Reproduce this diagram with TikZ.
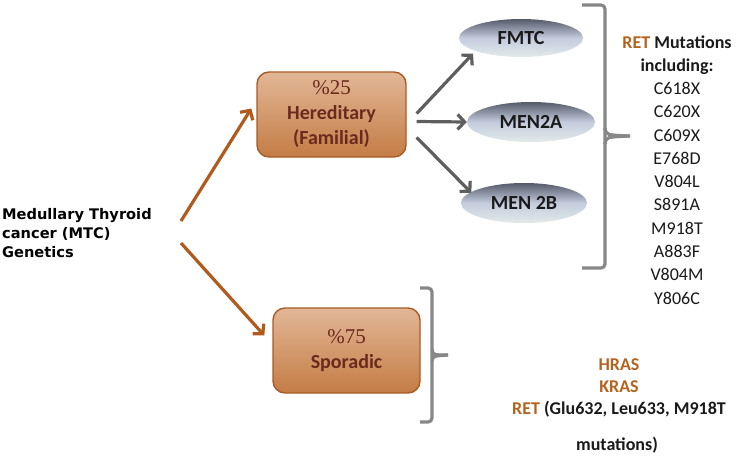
\documentclass[tikz,border=0pt]{standalone}
\usepackage{fontspec}
\setmainfont{Carlito}
\newfontfamily\leftfont{DejaVu Sans}
\newfontfamily\numfont{Liberation Serif}
\usetikzlibrary{arrows.meta,shapes.geometric,calc}
\definecolor{boxtop}{HTML}{E2B797}
\definecolor{boxbot}{HTML}{C47C45}
\definecolor{boxdraw}{HTML}{A95B26}
\definecolor{boxtext}{HTML}{6B2A1E}
\definecolor{arrbrown}{HTML}{B05A1E}
\definecolor{retbrown}{HTML}{B4631F}
\definecolor{arrgray}{HTML}{5E5E5E}
\definecolor{brgray}{HTML}{878787}
\definecolor{elltop}{HTML}{555A69}
\definecolor{ellmid}{HTML}{C4CCDE}
\definecolor{ellbot}{HTML}{E2EAEA}
\definecolor{txtdark}{HTML}{1A1A1A}
\tikzset{
  tanbox/.style={draw=boxdraw, line width=1.4pt, rounded corners=12pt,
    top color=boxtop, bottom color=boxbot, align=center, text=boxtext,
    font=\bfseries\fontsize{20}{25}\selectfont, inner sep=0pt},
  oval/.style={ellipse, draw=none, top color=elltop, bottom color=ellbot, middle color=ellmid,
    font=\bfseries\fontsize{20}{24}\selectfont, text=txtdark, inner sep=0pt},
  brarrow/.style={draw=arrbrown, line width=3.2pt, -{Straight Barb[length=7pt,width=15pt]}},
  grarrow/.style={draw=arrgray, line width=3.2pt, -{Straight Barb[length=7pt,width=15pt]}},
  bracket/.style={draw=brgray, line width=3.2pt, rounded corners=4pt},
  spike/.style={draw=brgray, line width=3.2pt},
  rtext/.style={align=center, text=txtdark, inner sep=0pt}
}
\begin{document}
\begin{tikzpicture}[x=1pt,y=-1pt]
\useasboundingbox (0,0) rectangle (754,456);
% left title
\node[anchor=west, align=left, inner sep=0pt, font=\leftfont\bfseries\fontsize{14.6}{19}\selectfont, text=black] (mtc) at (2,233)
  {Medullary Thyroid\\cancer (MTC)\\Genetics};
% boxes
\node[tanbox, minimum width=149pt, minimum height=85pt] (her) at (331.5,114.5)
  {{\mdseries\numfont\fontsize{21}{25}\selectfont \%25}\\Hereditary\\(Familial)};
\node[tanbox, minimum width=147pt, minimum height=85pt] (spo) at (346.5,350.5)
  {{\mdseries\numfont\fontsize{21}{25}\selectfont \%75}\\Sporadic};
% ellipses
\node[oval, minimum width=124pt, minimum height=38pt] (fmtc) at (521,38) {FMTC};
\node[oval, minimum width=128pt, minimum height=40pt] (men2a) at (531,122) {MEN2A};
\node[oval, minimum width=126pt, minimum height=40pt] (men2b) at (524,203) {MEN 2B};
% brown arrows
\coordinate (s1) at (181,221);
\coordinate (s2) at (181,243);
\draw[brarrow] (s1) -- ($(her.west)+(-5,-6)$);
\draw[brarrow] (s2) -- ($(spo.west)+(-8,-15)$);
% gray arrows
\draw[grarrow] ($(her.east)+(10,-1)$) -- ($(fmtc.south west)+(-4,2)$);
\draw[grarrow] ($(her.east)+(10,7)$) -- (men2a.west);
\draw[grarrow] ($(her.east)+(10,23)$) -- ($(men2b.north west)+(-8,4)$);
% big bracket
\coordinate (bt) at (582,5);
\coordinate (bb) at (582,268);
\draw[bracket] (bt) -- (605,5) -- (605,268) -- (bb);
\draw[spike] (605,128) .. controls (606,135) .. (630,136);
\draw[spike] (605,144) .. controls (606,137) .. (630,136);
% small bracket
\coordinate (st) at (420,288);
\coordinate (sb) at (420,422);
\draw[bracket] (st) -- (432,288) -- (432,422) -- (sb);
\draw[spike] (432,349) .. controls (433,355) .. (448,355);
\draw[spike] (432,361) .. controls (433,356) .. (448,355);
% RET list
\node[rtext, font=\fontsize{18}{23.27}\selectfont, anchor=base] (ret) at (677,304)
  {\textbf{\textcolor{retbrown}{RET} Mutations}\\\textbf{including:}\\C618X\\C620X\\C609X\\E768D\\V804L\\S891A\\M918T\\A883F\\V804M\\Y806C};
% sporadic mutations
\node[rtext, font=\bfseries\fontsize{18}{22}\selectfont, anchor=base] (spm) at (619,414)
  {\textcolor{retbrown}{HRAS}\\\textcolor{retbrown}{KRAS}\\\textcolor{retbrown}{RET} (Glu632, Leu633, M918T};
\node[rtext, font=\bfseries\fontsize{18}{22}\selectfont, anchor=base] (mut) at (617,450) {mutations)};
\end{tikzpicture}
\end{document}
